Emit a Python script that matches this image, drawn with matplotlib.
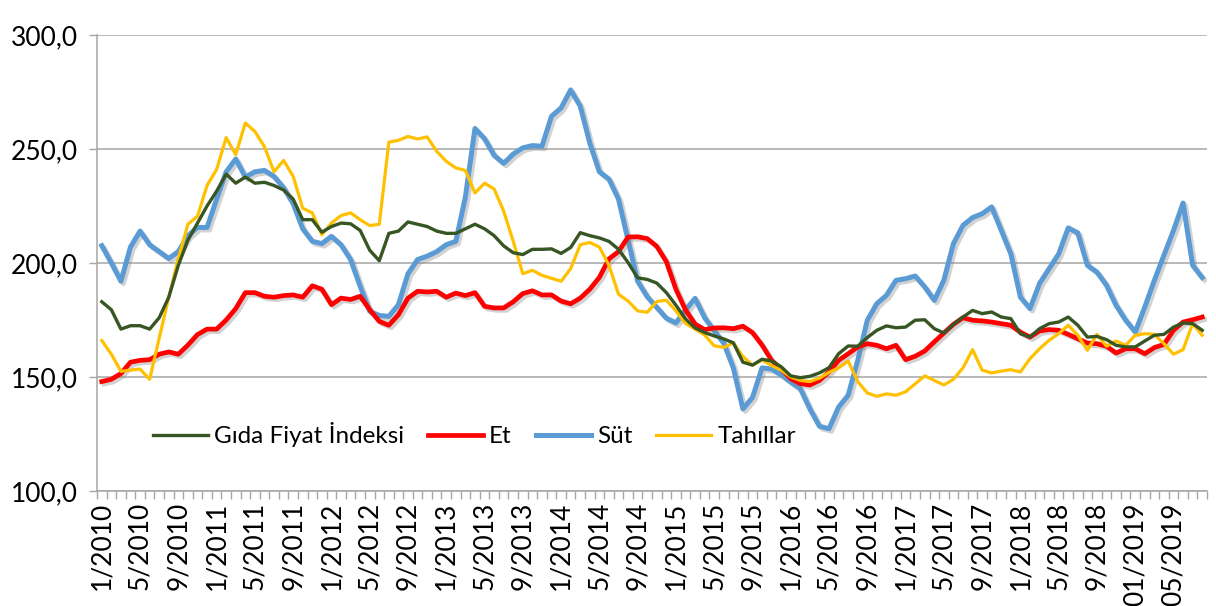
import matplotlib
matplotlib.use("Agg")
import matplotlib.pyplot as plt
import matplotlib.patheffects as pe
from matplotlib.ticker import FixedLocator, FuncFormatter
import numpy as np

# ---------------- data ----------------
months = [f"{m}/{y}" for y in range(2010, 2020) for m in range(1, 13)][:116]
tick_labels = ["1/2010", "5/2010", "9/2010", "1/2011", "5/2011", "9/2011",
               "1/2012", "5/2012", "9/2012", "1/2013", "5/2013", "9/2013",
               "1/2014", "5/2014", "9/2014", "1/2015", "5/2015", "9/2015",
               "1/2016", "5/2016", "9/2016", "1/2017", "5/2017", "9/2017",
               "1/2018", "5/2018", "9/2018", "01/2019", "05/2019"]

gida = [183, 179.5, 171, 172.5, 172.5, 171, 176, 185, 199, 210, 217.5, 225,
        231.5, 239, 235, 237.7, 235, 235.4, 234, 232, 228, 219, 219, 213.5,
        216, 217.5, 217.2, 214.3, 205.6, 201, 213, 214, 218, 217, 216, 214,
        213, 213, 215, 217, 215, 212, 207.5, 204.5, 203.7, 206, 206, 206.2,
        204.2, 206.8, 213.3, 212, 211, 209.5, 206, 200.2, 193.5, 192.8, 191.2, 187,
        181.5, 175.5, 171.5, 169.5, 168, 166.7, 165, 156.5, 155.2, 157.8, 157, 154.5,
        150.5, 149.7, 150.3, 151.8, 154.1, 160.2, 163.6, 163.5, 167.3, 170.5, 172.4, 171.6,
        171.9, 174.9, 175.1, 171.2, 169.3, 173.1, 176.3, 179.2, 177.8, 178.5, 176.3, 175.6,
        169, 167.5, 171.2, 173.4, 174.1, 176.3, 172.7, 167.5, 167.8, 166.4, 163.9, 163.2,
        163.2, 165.8, 168.3, 168.7, 171.9, 173.7, 173.4, 170.5]

et = [148, 149, 151.5, 156.5, 157.3, 157.6, 160, 161, 160, 164, 168.6, 171,
      171, 175, 180, 187, 187, 185.4, 185, 185.7, 186, 185, 190, 188.5,
      181.7, 184.6, 184, 185.4, 179.5, 174.4, 172.7, 177.3, 184.6, 187.6, 187.3, 187.6,
      185, 186.8, 185.7, 187, 181, 180.3, 180.3, 183, 186.6, 187.8, 186, 186,
      183.3, 182.1, 184.6, 188.5, 193.7, 201.8, 205, 211.4, 211.5, 210.7, 207.3, 200.6,
      188.5, 179.4, 173.2, 170.8, 171.5, 171.6, 171.2, 172.3, 169.5, 164, 157.3, 153.5,
      149.3, 147.1, 146.5, 148.5, 152.2, 157.3, 160.2, 163.2, 164.6, 163.9, 162.4, 163.9,
      157.6, 159.1, 161.4, 165.4, 169.3, 173.1, 176, 174.9, 174.6, 174.1, 173.4, 172.7,
      169.7, 167.5, 170.2, 170.8, 170.5, 168.7, 166.8, 164.9, 164.6, 163.5, 160.5, 162.4,
      162.4, 160.2, 162.9, 164.3, 170.5, 174.1, 175.1, 176.3]

sut = [207.6, 200, 192, 207, 214, 208, 205, 202, 205, 212, 215.6, 215.6,
       228, 240, 245.6, 237.7, 240, 240.6, 238, 233, 226, 215, 209.5, 208.5,
       211.7, 208, 201.5, 189.8, 178.8, 177, 176.6, 181.7, 195.3, 201.5, 203, 205,
       208, 209.5, 229, 259, 254.5, 247.2, 243.7, 247.8, 250.5, 251.5, 251.2, 264.4,
       268, 275.9, 268.8, 252.6, 240, 236.8, 228, 210, 192, 185.2, 180.5, 175.8,
       173.7, 179.4, 184.5, 176, 170.3, 164.8, 154, 136, 141, 154, 153.5, 151,
       147.8, 144.9, 136, 128.4, 127.3, 136.8, 142, 157.3, 174.9, 182.2, 185.8, 192.4,
       193.1, 194.3, 189.5, 183.6, 192.4, 208.5, 216.5, 219.9, 221.6, 224.6, 214.3, 204,
       185, 180, 191, 197.5, 204, 215.4, 213.2, 199, 196, 190.2, 181.4, 174.9,
       169.7, 180.7, 192.4, 203.4, 214.3, 226.3, 199, 193.6]

tahil = [166, 160, 152.5, 153, 153.5, 149, 167, 185, 202, 217, 220.5, 234,
         241, 255, 247.5, 261.4, 257.7, 251, 240, 245, 238, 224, 222, 212.4,
         217.5, 220.8, 222, 219, 216.4, 217, 253, 253.8, 255.5, 254.4, 255.3, 249,
         244.6, 241.7, 240.6, 230.7, 235, 232.5, 222.7, 209.5, 195.3, 196.8, 194.6, 193.3,
         192, 197.5, 208, 209, 207, 199, 186.3, 183.3, 179, 178.4, 183.1, 183.7,
         179, 173.5, 171, 168.4, 163.7, 163, 165, 159, 155.2, 157.5, 155, 153,
         150, 148.5, 148, 149.5, 152, 154, 157, 148, 143, 141.5, 142.6, 142,
         143.5, 147, 150.5, 148.5, 146.5, 149, 154, 162, 153, 151.8, 152.6, 153.2,
         152.2, 158, 162.4, 166.1, 169, 172.7, 168.3, 161.7, 168.7, 163.5, 165.8, 163.9,
         168.3, 169, 168.7, 164.6, 160, 162, 173.4, 168.3]

series_names = ["Gıda Fiyat İndeksi", "Et", "Süt", "Tahıllar"]

# ---------------- style ----------------
plt.rcParams['font.family'] = ['Lato', 'DejaVu Sans']

fig = plt.figure(figsize=(12.16, 6.06), dpi=100)
ax = fig.add_axes([97/1216, 1-491/606, (1207-97)/1216, (491-35)/606])

x = np.arange(len(months))
shadow = [pe.SimpleLineShadow(offset=(1.8, -1.8), shadow_color='#808080', alpha=0.35), pe.Normal()]

ax.plot(x, sut, color='#5B9BD5', lw=3.6, solid_joinstyle='round', label=series_names[2],
        path_effects=shadow, zorder=3)
ax.plot(x, et, color='#FF0000', lw=3.4, solid_joinstyle='round', label=series_names[1],
        path_effects=shadow, zorder=4)
ax.plot(x, tahil, color='#FFC000', lw=2.3, solid_joinstyle='round', label=series_names[3],
        zorder=5)
ax.plot(x, gida, color='#375623', lw=2.4, solid_joinstyle='round', label=series_names[0],
        zorder=6)

ax.set_xlim(-0.5, len(months) - 0.5)
ax.set_ylim(100, 300)
ax.set_yticks([100, 150, 200, 250, 300])
ax.yaxis.set_major_formatter(FuncFormatter(lambda v, p: f"{v:.1f}".replace('.', ',')))
ax.grid(axis='y', color='#A6A6A6', lw=1.1)
ax.set_axisbelow(True)

label_pos = np.arange(0, len(months), 4)
ax.xaxis.set_major_locator(FixedLocator(label_pos))
ax.set_xticklabels(tick_labels, rotation=90)
ax.xaxis.set_minor_locator(FixedLocator(np.arange(-0.5, len(months) + 0.5, 1)))
ax.tick_params(axis='x', which='major', length=0, pad=8, labelsize=19)
ax.tick_params(axis='x', which='minor', length=6, color='#A6A6A6', width=1)
ax.tick_params(axis='y', which='major', length=6, color='#A6A6A6', width=1, pad=8, labelsize=19)

for s in ['top', 'right']:
    ax.spines[s].set_visible(False)
for s in ['left', 'bottom']:
    ax.spines[s].set_color('#A6A6A6')
    ax.spines[s].set_linewidth(1.1)

handles, labels = ax.get_legend_handles_labels()
order = [3, 1, 0, 2]
leg = ax.legend([handles[i] for i in order], [labels[i] for i in order],
                loc='center', bbox_to_anchor=(0.340, 0.123), ncol=4, frameon=False,
                fontsize=17.5, handlelength=2.25, columnspacing=1.0, handletextpad=0.25)
for h in leg.get_lines():
    h.set_path_effects([])

fig.savefig("out.png", dpi=100)
